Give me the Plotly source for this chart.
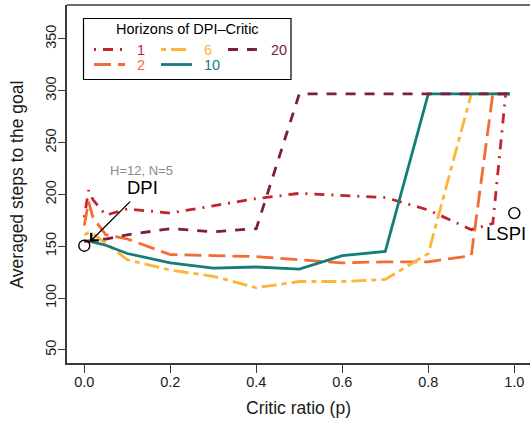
import plotly.graph_objects as go

# ---- data ----
critic_ratio = [0, 0.01, 0.02, 0.05, 0.1, 0.2, 0.3, 0.4, 0.5, 0.6, 0.7, 0.8, 0.9, 0.95, 0.98, 0.99]
steps_h1 = [178, 204, 195, 180, 186, 182, 189, 196, 201, 199, 197, 185, 166, 172, 297, 297]
steps_h2 = [170, 193, 178, 161, 157, 142, 141, 140, 137, 134, 135, 135, 141, 297, 297, 297]
steps_h6 = [161, 163, 162, 153, 137, 127, 121, 110, 116, 116, 118, 143, 297, 297, 297, 297]
steps_h10 = [155, 155, 154, 151, 143, 134, 129, 130, 128, 141, 145, 297, 297, 297, 297, 297]
steps_h20 = [155, 155, 156, 157, 161, 167, 164, 167, 297, 297, 297, 297, 297, 297, 297, 297]
horizon_labels = ["1", "2", "6", "10", "20"]

dpi_point = (0.0, 150.5)
lspi_point = (1.0, 182)

x_ticks = [0.0, 0.2, 0.4, 0.6, 0.8, 1.0]
y_ticks = [50, 100, 150, 200, 250, 300, 350]

FONT = "Liberation Sans"
W, H = 530, 422
ML, MR, MT, MB = 67, 0, 5, 59

styles = {
    "1": dict(color="#C4232B", dash="2px,7px,10px,7px"),
    "2": dict(color="#F36C31", dash="17px,7px"),
    "6": dict(color="#FDB437", dash="5px,5px,15px,5px"),
    "10": dict(color="#137D79", dash="solid"),
    "20": dict(color="#7E1C43", dash="10px,9px"),
}
series = {"1": steps_h1, "2": steps_h2, "6": steps_h6, "10": steps_h10, "20": steps_h20}

fig = go.Figure()
for lab in horizon_labels:
    st = styles[lab]
    fig.add_trace(go.Scatter(
        x=critic_ratio, y=series[lab], mode="lines", name=lab,
        line=dict(color=st["color"], dash=st["dash"], width=2.8),
        showlegend=False,
    ))

fig.add_trace(go.Scatter(
    x=[dpi_point[0], lspi_point[0]], y=[dpi_point[1], lspi_point[1]],
    mode="markers", showlegend=False,
    marker=dict(symbol="circle-open", size=11, color="black", line=dict(width=1.4)),
))

# pixel -> paper helpers for the hand-made legend box and titles
pw = W - ML - MR
ph = H - MT - MB
def px_x(px):
    return (px - ML) / pw
def px_y(py):
    return (H - MB - py) / ph

shapes = []
annotations = []

# top frame line
shapes.append(dict(type="line", xref="paper", yref="paper", x0=0, x1=1, y0=1, y1=1,
                   line=dict(color="#6e6e6e", width=2)))

# legend box
shapes.append(dict(type="rect", xref="paper", yref="paper",
                   x0=px_x(83.5), x1=px_x(291), y0=px_y(79.5), y1=px_y(18.5),
                   line=dict(color="black", width=1.2), fillcolor="white", layer="above"))
annotations.append(dict(xref="paper", yref="paper", x=px_x(187), y=px_y(28.5),
                        text="Horizons of DPI\u2013Critic", showarrow=False,
                        xanchor="center", yanchor="middle",
                        font=dict(family=FONT, size=14.5, color="black")))
legend_items = [
    ("1", 94, 123, 49.5, 135),
    ("6", 161, 187, 49.5, 202),
    ("20", 228, 257, 49.5, 269),
    ("2", 94, 125, 64.5, 135),
    ("10", 161, 192, 64.5, 202),
]
for lab, x0, x1, y, tx in legend_items:
    st = styles[lab]
    shapes.append(dict(type="line", xref="paper", yref="paper",
                       x0=px_x(x0), x1=px_x(x1), y0=px_y(y), y1=px_y(y),
                       line=dict(color=st["color"], dash=st["dash"], width=2.8), layer="above"))
    annotations.append(dict(xref="paper", yref="paper", x=px_x(tx), y=px_y(y),
                            text=lab, showarrow=False, xanchor="left", yanchor="middle",
                            font=dict(family=FONT, size=14.5, color=st["color"])))

# axis titles
annotations.append(dict(xref="paper", yref="paper", x=px_x(298.5), y=px_y(408),
                        text="Critic ratio (p)", showarrow=False,
                        xanchor="center", yanchor="middle",
                        font=dict(family=FONT, size=17.5, color="#1a1a1a")))
annotations.append(dict(xref="paper", yref="paper", x=px_x(16), y=px_y(184.5),
                        text="Averaged steps to the goal", showarrow=False, textangle=-90,
                        xanchor="center", yanchor="middle",
                        font=dict(family=FONT, size=17.5, color="#1a1a1a")))

# text annotations
annotations.append(dict(x=0.133, y=223.5, text="H=12, N=5", showarrow=False,
                        font=dict(family=FONT, size=13, color="#8a8a8a")))
annotations.append(dict(x=0.1355, y=206.5, text="DPI", showarrow=False,
                        font=dict(family=FONT, size=18.5, color="black")))
annotations.append(dict(x=0.0135, y=154.5, ax=0.110, ay=194.5, axref="x", ayref="y",
                        text="", showarrow=True, arrowhead=4, arrowsize=1.6,
                        arrowwidth=1.3, arrowcolor="black"))
annotations.append(dict(x=0.98, y=162.5, text="LSPI", showarrow=False,
                        font=dict(family=FONT, size=18.5, color="black")))

fig.update_layout(
    width=W, height=H,
    margin=dict(l=ML, r=MR, t=MT, b=MB),
    paper_bgcolor="white", plot_bgcolor="white",
    font=dict(family=FONT, color="#1a1a1a"),
    shapes=shapes, annotations=annotations,
    xaxis=dict(range=[-0.0402, 1.0365], tickvals=x_ticks,
               ticktext=[f"{v:.1f}" for v in x_ticks],
               ticks="outside", ticklen=8, tickwidth=1.2, tickcolor="#3a3a3a",
               showline=True, linecolor="#3a3a3a", linewidth=1.5,
               showgrid=False, zeroline=False, automargin=False,
               ticklabelstandoff=-3,
               tickfont=dict(family=FONT, size=14.5, color="#1a1a1a")),
    yaxis=dict(range=[37.4, 382.7], tickvals=y_ticks,
               ticks="outside", ticklen=7, tickwidth=1.2, tickcolor="#3a3a3a",
               showline=True, linecolor="#3a3a3a", linewidth=1.5,
               showgrid=False, zeroline=False, tickangle=-90, automargin=False,
               ticklabelstandoff=-4,
               tickfont=dict(family=FONT, size=14.5, color="#1a1a1a")),
)

fig.write_html("out.html", config={"displayModeBar": False},
               post_script="document.body.style.margin='0px';")
